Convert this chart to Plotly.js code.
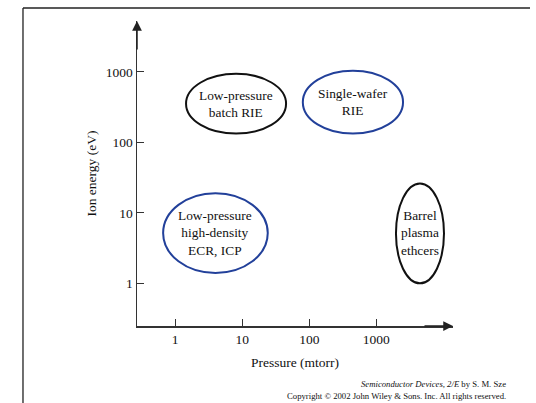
<!DOCTYPE html>
<html>
<head>
<meta charset="utf-8">
<script src="https://cdn.plot.ly/plotly-3.0.1.min.js"></script>
<style>html,body{margin:0;padding:0;background:#fff;}#chart{width:536px;height:403px;}</style>
</head>
<body>
<div id="chart"></div>
<script>
// Regions (pressure in mtorr, ion energy in eV)
const regionLabels = ["Low-pressure<br>batch RIE", "Single-wafer<br>RIE", "Low-pressure<br>high-density<br>ECR, ICP", "Barrel<br>plasma<br>ethcers"];
const regionPressureMin = [1.45, 80, 0.66, 1960];
const regionPressureMax = [45, 2500, 24, 10200];
const regionEnergyMin = [133, 133, 1.4, 1.0];
const regionEnergyMax = [940, 1040, 19, 26];
const regionColors = ["#111111", "#22409a", "#22409a", "#111111"];

const pressureTicks = [1, 10, 100, 1000];
const pressureTickText = ["1", "10", "100", "1000"];
const energyTicks = [1, 10, 100, 1000];
const energyTickText = ["1", "10", "100", "1000"];

const serif = "Liberation Serif, Times New Roman, serif";

const shapes = regionLabels.map((_, i) => ({
  type: "circle", xref: "x", yref: "y",
  x0: regionPressureMin[i], x1: regionPressureMax[i],
  y0: regionEnergyMin[i], y1: regionEnergyMax[i],
  line: {color: regionColors[i], width: 2}
}));

// page frame lines
shapes.push({type: "line", xref: "paper", yref: "paper", x0: -0.3608, x1: -0.3608, y0: -0.26, y1: 1.0426, line: {color: "#222", width: 1.3}});
shapes.push({type: "line", xref: "paper", yref: "paper", x0: -0.3608, x1: 1.2437, y0: 1.0426, y1: 1.0426, line: {color: "#222", width: 1.3}});

const annotations = regionLabels.map((t, i) => ({
  x: Math.log10(Math.sqrt(regionPressureMin[i] * regionPressureMax[i])),
  y: Math.log10(Math.sqrt(regionEnergyMin[i] * regionEnergyMax[i])),
  xref: "x", yref: "y", text: t, showarrow: false,
  font: {family: serif, size: 13.4, color: "#111"}, align: "center"
}));

// axis arrowheads
annotations.push({xref: "paper", yref: "paper", x: 0, y: 1, ax: 0, ay: 30, axref: "pixel", ayref: "pixel",
  text: "", showarrow: true, arrowhead: 2, arrowsize: 1.3, arrowwidth: 1.5, arrowcolor: "#222", standoff: 0});
annotations.push({xref: "paper", yref: "paper", x: 1, y: 0, ax: -30, ay: 0, axref: "pixel", ayref: "pixel",
  text: "", showarrow: true, arrowhead: 2, arrowsize: 1.3, arrowwidth: 1.5, arrowcolor: "#222", standoff: 0});

// source note
annotations.push({xref: "paper", yref: "paper", x: 1.174, y: -0.190, xanchor: "right", yanchor: "middle", showarrow: false,
  text: "<i>Semiconductor Devices, 2/E</i> by S. M. Sze", font: {family: serif, size: 8.7, color: "#111"}});
annotations.push({xref: "paper", yref: "paper", x: 1.174, y: -0.2295, xanchor: "right", yanchor: "middle", showarrow: false,
  text: "Copyright © 2002 John Wiley & Sons. Inc. All rights reserved.", font: {family: serif, size: 8.7, color: "#111"}});

const layout = {
  width: 536, height: 403,
  margin: {l: 137, r: 83, t: 21, b: 77},
  paper_bgcolor: "#fff", plot_bgcolor: "#fff",
  showlegend: false,
  font: {family: serif, color: "#111"},
  xaxis: {
    type: "log", range: [-0.570, 4.143],
    tickvals: pressureTicks, ticktext: pressureTickText,
    ticks: "inside", ticklen: 7, tickwidth: 1.2, tickcolor: "#333",
    showline: true, linecolor: "#333", linewidth: 1.5,
    showgrid: false, zeroline: false,
    tickfont: {family: serif, size: 13.5, color: "#111"},
    title: {text: "Pressure (mtorr)", font: {family: serif, size: 13.5, color: "#111"}, standoff: 12},
    fixedrange: true
  },
  yaxis: {
    type: "log", range: [-0.6056, 3.7215],
    tickvals: energyTicks, ticktext: energyTickText,
    ticks: "inside", ticklen: 7, tickwidth: 1.2, tickcolor: "#333",
    showline: true, linecolor: "#333", linewidth: 1.5,
    showgrid: false, zeroline: false,
    tickfont: {family: serif, size: 13.5, color: "#111"},
    title: {text: "Ion energy (eV)", font: {family: serif, size: 13.5, color: "#111"}, standoff: 6},
    fixedrange: true
  },
  shapes: shapes,
  annotations: annotations
};

// invisible trace to establish the axes
const data = [{
  type: "scatter", mode: "markers",
  x: regionPressureMin.concat(regionPressureMax),
  y: regionEnergyMin.concat(regionEnergyMax),
  marker: {opacity: 0}, hoverinfo: "skip"
}];

Plotly.newPlot("chart", data, layout, {staticPlot: true, displayModeBar: false});
</script>
</body>
</html>
